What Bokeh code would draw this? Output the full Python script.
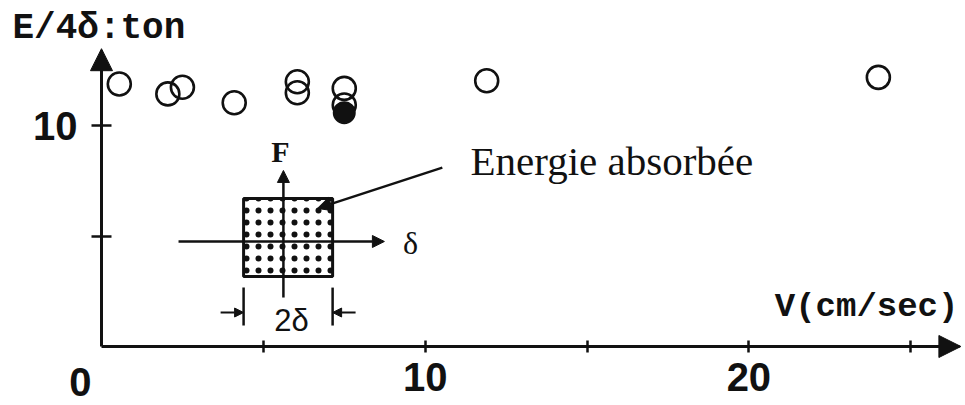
from bokeh.plotting import figure
from bokeh.models import Range1d, Label, Arrow, NormalHead, FixedTicker
from bokeh.embed import file_html
from bokeh.resources import INLINE

# Measured absorbed energy per unit displacement vs. loading velocity
velocity = [0.55, 2.05, 2.5, 4.1, 6.05, 6.05, 7.5, 7.5, 11.9, 24.0]
energy = [11.9, 11.45, 11.75, 11.05, 12.0, 11.5, 11.7, 10.95, 12.05, 12.2]
velocity_filled = [7.5]
energy_filled = [10.6]

x_ticks = [5, 10, 15, 20, 25]
x_tick_labels = {5: "", 10: "10", 15: "", 20: "20", 25: ""}
y_ticks = [5, 10]
y_tick_labels = {5: "", 10: "10"}

INK = "#111111"

# the frame fills the canvas; axes are pinned to the origin
p = figure(width=965, height=405, output_backend="svg", toolbar_location=None,
           x_range=Range1d(-3.120, 26.692), y_range=Range1d(-2.675, 15.685),
           min_border=0)
p.outline_line_color = None
p.grid.visible = False
p.background_fill_color = "white"
p.border_fill_color = "white"

for ax in (p.xaxis[0], p.yaxis[0]):
    ax.fixed_location = 0
    ax.axis_line_width = 3
    ax.axis_line_color = INK
    ax.major_tick_line_color = INK
    ax.major_tick_line_width = 2.5
    ax.minor_tick_line_color = None
    ax.major_label_text_font = "Liberation Sans"
    ax.major_label_text_font_style = "bold"
    ax.major_label_text_font_size = "40px"
    ax.major_label_text_color = INK

p.xaxis.bounds = (0, 26.5)
p.xaxis.ticker = FixedTicker(ticks=x_ticks)
p.xaxis.major_label_overrides = x_tick_labels
p.xaxis.major_tick_in = 6
p.xaxis.major_tick_out = 6
p.xaxis.major_label_standoff = 11

p.yaxis.bounds = (0, 13.4)
p.yaxis.ticker = FixedTicker(ticks=y_ticks)
p.yaxis.major_label_overrides = y_tick_labels
p.yaxis.major_tick_in = 10
p.yaxis.major_tick_out = 10
p.yaxis.major_label_standoff = 14

# axis arrow heads
p.add_layout(Arrow(end=NormalHead(size=22, fill_color=INK, line_color=INK),
                   x_start=25.5, y_start=0, x_end=26.55, y_end=0,
                   line_width=3, line_color=INK))
p.add_layout(Arrow(end=NormalHead(size=22, fill_color=INK, line_color=INK),
                   x_start=0, y_start=12.5, x_end=0, y_end=13.5,
                   line_width=3, line_color=INK))

# origin label, set left of the corner
p.add_layout(Label(x=0, y=0, text="0", text_font="Liberation Sans",
                   text_font_style="bold", text_font_size="40px",
                   text_color=INK, text_align="center", text_baseline="alphabetic",
                   x_offset=-21, y_offset=-36))

# axis titles
p.add_layout(Label(x=-2.75, y=14.41, text="E/4δ:ton", text_font="Liberation Mono",
                   text_font_style="bold", text_font_size="36px", text_color=INK,
                   text_baseline="alphabetic"))
p.add_layout(Label(x=20.8, y=1.81, text="V(cm/sec)", text_font="Liberation Mono",
                   text_font_style="bold", text_font_size="34px", text_color=INK,
                   text_baseline="alphabetic"))

# data points
p.scatter(velocity, energy, size=23, marker="circle", fill_color=None,
          line_color=INK, line_width=2.6)
p.scatter(velocity_filled, energy_filled, size=21, marker="circle",
          fill_color=INK, line_color=INK, line_width=2)

# inset sketch: hysteresis loop of a rigid-plastic element
p.quad(left=[4.39], right=[7.14], bottom=[3.17], top=[6.71],
       fill_color="white", line_color=INK, line_width=3,
       hatch_pattern="dot", hatch_color=INK, hatch_scale=12, hatch_weight=1.8)
p.add_layout(Arrow(end=NormalHead(size=12, fill_color=INK, line_color=INK),
                   x_start=2.38, y_start=4.76, x_end=8.74, y_end=4.76,
                   line_width=2.5, line_color=INK))
p.add_layout(Arrow(end=NormalHead(size=12, fill_color=INK, line_color=INK),
                   x_start=5.62, y_start=2.22, x_end=5.62, y_end=7.98,
                   line_width=2.5, line_color=INK))
p.segment(x0=[4.39, 7.14], y0=[2.67, 2.67], x1=[4.39, 7.14], y1=[0.95, 0.95],
          line_color=INK, line_width=2.5)
p.add_layout(Arrow(end=NormalHead(size=9, fill_color=INK, line_color=INK),
                   x_start=3.68, y_start=1.54, x_end=4.39, y_end=1.54,
                   line_width=2, line_color=INK))
p.add_layout(Arrow(end=NormalHead(size=9, fill_color=INK, line_color=INK),
                   x_start=7.85, y_start=1.54, x_end=7.14, y_end=1.54,
                   line_width=2, line_color=INK))
p.add_layout(Arrow(end=NormalHead(size=14, fill_color=INK, line_color=INK),
                   x_start=10.53, y_start=8.11, x_end=6.67, y_end=6.26,
                   line_width=2.5, line_color=INK))

p.add_layout(Label(x=5.53, y=8.85, text="F", text_font="Liberation Serif",
                   text_font_style="bold", text_font_size="30px", text_color=INK,
                   text_align="center", text_baseline="alphabetic"))
p.add_layout(Label(x=9.55, y=4.71, text="δ", text_font="Liberation Serif",
                   text_font_size="32px", text_color=INK,
                   text_align="center", text_baseline="alphabetic"))
p.add_layout(Label(x=5.87, y=1.16, text="2δ", text_font="Liberation Sans",
                   text_font_size="31px", text_color=INK,
                   text_align="center", text_baseline="alphabetic"))
p.add_layout(Label(x=11.4, y=8.43, text="Energie absorbée", text_font="Liberation Serif",
                   text_font_size="41px", text_color=INK,
                   text_baseline="alphabetic"))

open("out.html", "w").write(file_html(p, INLINE))
